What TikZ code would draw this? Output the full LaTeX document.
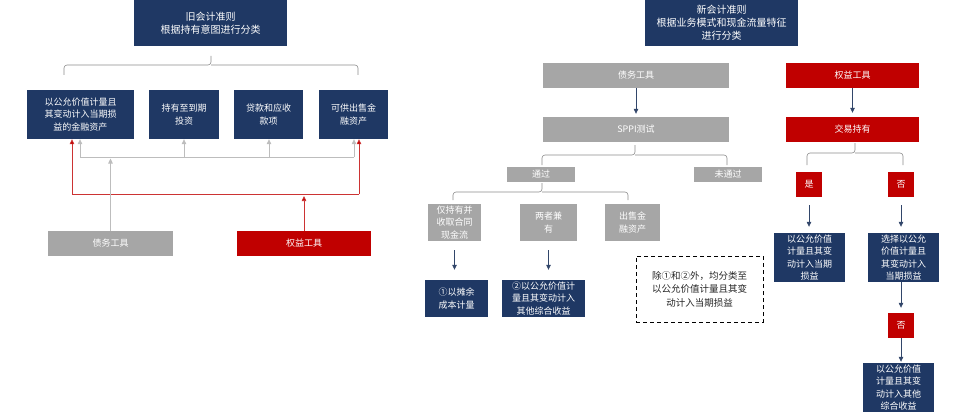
\documentclass[tikz,border=0pt]{standalone}
\usepackage{fontspec}
\setmainfont{Noto Sans CJK SC}
\usetikzlibrary{arrows.meta}
\definecolor{navy}{HTML}{1F3864}
\definecolor{dred}{HTML}{C00000}
\definecolor{gbox}{HTML}{A6A6A6}
\definecolor{gline}{HTML}{BDBDBD}
\definecolor{rline}{HTML}{CC3333}
\definecolor{brc}{HTML}{8C8C8C}
\tikzset{
  box/.style={rectangle, inner sep=0pt, align=center, text=white, font=\fontsize{9}{12.5}\selectfont},
  navybox/.style={box, fill=navy},
  titlebox/.style={box, fill=navy, font=\fontsize{10}{13}\selectfont},
  graybox/.style={box, fill=gbox},
  redbox/.style={box, fill=dred},
  dashbox/.style={box, draw=black, text=black!85, line width=0.8pt, dash pattern=on 4pt off 3pt, font=\fontsize{9.5}{13.5}\selectfont},
  gln/.style={draw=gline, line width=0.7pt},
  garr/.style={gln, -{Triangle[length=5pt,width=4.5pt]}},
  rln/.style={draw=rline, line width=0.7pt},
  rarr/.style={rln, -{Triangle[length=5pt,width=4.5pt,fill=dred]}},
  narr/.style={draw=navy!80!gray, line width=0.7pt, -{Triangle[length=5pt,width=4.5pt]}},
  brace/.style={draw=brc, line width=0.6pt, rounded corners=3pt},
}
\begin{document}
\begin{tikzpicture}[x=1pt,y=-1pt]
\useasboundingbox (0,0) rectangle (967,412);
% ---------- left part ----------
\node[titlebox, minimum width=153pt, minimum height=46pt] (oldtop) at (210.5,23) {旧会计准则\\根据持有意图进行分类};
\node[navybox, minimum width=107pt, minimum height=49pt] (b1) at (80.5,114.5) {以公允价值计量且\\其变动计入当期损\\益的金融资产};
\node[navybox, minimum width=70pt, minimum height=49pt] (b2) at (184,114.5) {持有至到期\\投资};
\node[navybox, minimum width=69pt, minimum height=49pt] (b3) at (268.5,114.5) {贷款和应收\\款项};
\node[navybox, minimum width=69pt, minimum height=49pt] (b4) at (353.5,114.5) {可供出售金\\融资产};
\node[graybox, minimum width=125pt, minimum height=25pt] (debtL) at (110.5,243.5) {债务工具};
\node[redbox, minimum width=134pt, minimum height=25pt] (eqL) at (304,243.5) {权益工具};
% brace
\draw[brace] (64,75) -- (64,65) -- (211,65) -- (211,56);
\draw[brace] (358,75) -- (358,65) -- (211,65);
% gray connectors
\coordinate (g1) at (80,157);
\coordinate (g2) at (184,157);
\coordinate (g3) at (269,157);
\coordinate (g4) at (354,157);
\draw[gln] (g1) -- (g4);
\draw[garr] (g1) -- (g1 |- b1.south);
\draw[garr] (g2) -- (g2 |- b2.south);
\draw[garr] (g3) -- (g3 |- b3.south);
\draw[garr] (g4) -- (g4 |- b4.south);
% red connectors
\coordinate (r1) at (72,194);
\coordinate (r4) at (359,194);
\draw[rln] (r1) -- (r4);
\draw[garr, shorten >=1.5pt] (debtL.north) -- (debtL.north |- g1);
\draw[rarr] (r1) -- (r1 |- b1.south);
\draw[rarr] (r4) -- (r4 |- b4.south);
\draw[rarr, shorten >=2pt] (eqL.north) -- (eqL.north |- r1);
% ---------- middle part ----------
\node[titlebox, minimum width=153pt, minimum height=46pt] (newtop) at (721.5,23) {新会计准则\\根据业务模式和现金流量特征\\进行分类};
\node[graybox, minimum width=186pt, minimum height=25pt] (debtR) at (636,75.5) {债务工具};
\node[graybox, minimum width=186pt, minimum height=25pt] (sppi) at (636,129.5) {SPPI测试};
\draw[narr, shorten >=3pt] (debtR.south) -- (sppi.north);
\draw[brace] (542,165) -- (542,155) -- (635,155) -- (635,145);
\draw[brace] (727,165) -- (727,155) -- (635,155);
\node[graybox, minimum width=68pt, minimum height=15pt] (pass) at (541,174.5) {通过};
\node[graybox, minimum width=68pt, minimum height=15pt] (fail) at (728,174.5) {未通过};
\draw[brace] (453,200) -- (453,192) -- (542,192) -- (542,183);
\draw[brace] (628,200) -- (628,192) -- (542,192);
\node[graybox, minimum width=53pt, minimum height=37pt] (c1) at (454.5,222.5) {仅持有并\\收取合同\\现金流};
\node[graybox, minimum width=57pt, minimum height=37pt] (c2) at (548.5,222.5) {两者兼\\有};
\node[graybox, minimum width=55pt, minimum height=37pt] (c3) at (632.5,222.5) {出售金\\融资产};
\node[navybox, minimum width=63pt, minimum height=37pt] (m1) at (456.5,298.5) {①以摊余\\成本计量};
\node[navybox, minimum width=83pt, minimum height=37pt] (m2) at (543.5,298.5) {②以公允价值计\\量且其变动计入\\其他综合收益};
\draw[narr, shorten <=9pt, shorten >=10pt] (c1.south) -- (c1.south |- m1.north);
\draw[narr, shorten <=9pt, shorten >=10pt] (c2.south) -- (c2.south |- m2.north);
\node[dashbox, minimum width=127pt, minimum height=66pt] (other) at (699.5,289) {除①和②外，均分类至\\以公允价值计量且其变\\动计入当期损益};
% ---------- right part ----------
\node[redbox, minimum width=133pt, minimum height=25pt] (eqR) at (852.5,75.5) {权益工具};
\node[redbox, minimum width=133pt, minimum height=25pt] (trade) at (852.5,129.5) {交易持有};
\draw[narr, shorten >=4pt] (eqR.south) -- (trade.north);
\draw[brace] (807,165) -- (807,153) -- (855,153) -- (855,143);
\draw[brace] (903,165) -- (903,153) -- (855,153);
\node[redbox, minimum width=26pt, minimum height=25pt] (yes) at (809,184.5) {是};
\node[redbox, minimum width=26pt, minimum height=25pt] (no1) at (901,184.5) {否};
\node[navybox, minimum width=71pt, minimum height=49pt] (f1) at (809.5,257.5) {以公允价值\\计量且其变\\动计入当期\\损益};
\node[navybox, minimum width=71pt, minimum height=49pt] (f2) at (903.5,257.5) {选择以公允\\价值计量且\\其变动计入\\当期损益};
\draw[narr, shorten <=8pt, shorten >=6pt] (yes.south) -- (yes.south |- f1.north);
\draw[narr, shorten <=8pt, shorten >=6pt] (no1.south) -- (no1.south |- f2.north);
\node[redbox, minimum width=26pt, minimum height=25pt] (no2) at (901,325.5) {否};
\node[navybox, minimum width=71pt, minimum height=49pt] (f3) at (898.5,387.5) {以公允价值\\计量且其变\\动计入其他\\综合收益};
\draw[narr, shorten >=5pt] (no2.north |- f2.south) -- (no2.north);
\draw[narr, shorten >=1pt] (no2.south) -- (no2.south |- f3.north);
\end{tikzpicture}
\end{document}
